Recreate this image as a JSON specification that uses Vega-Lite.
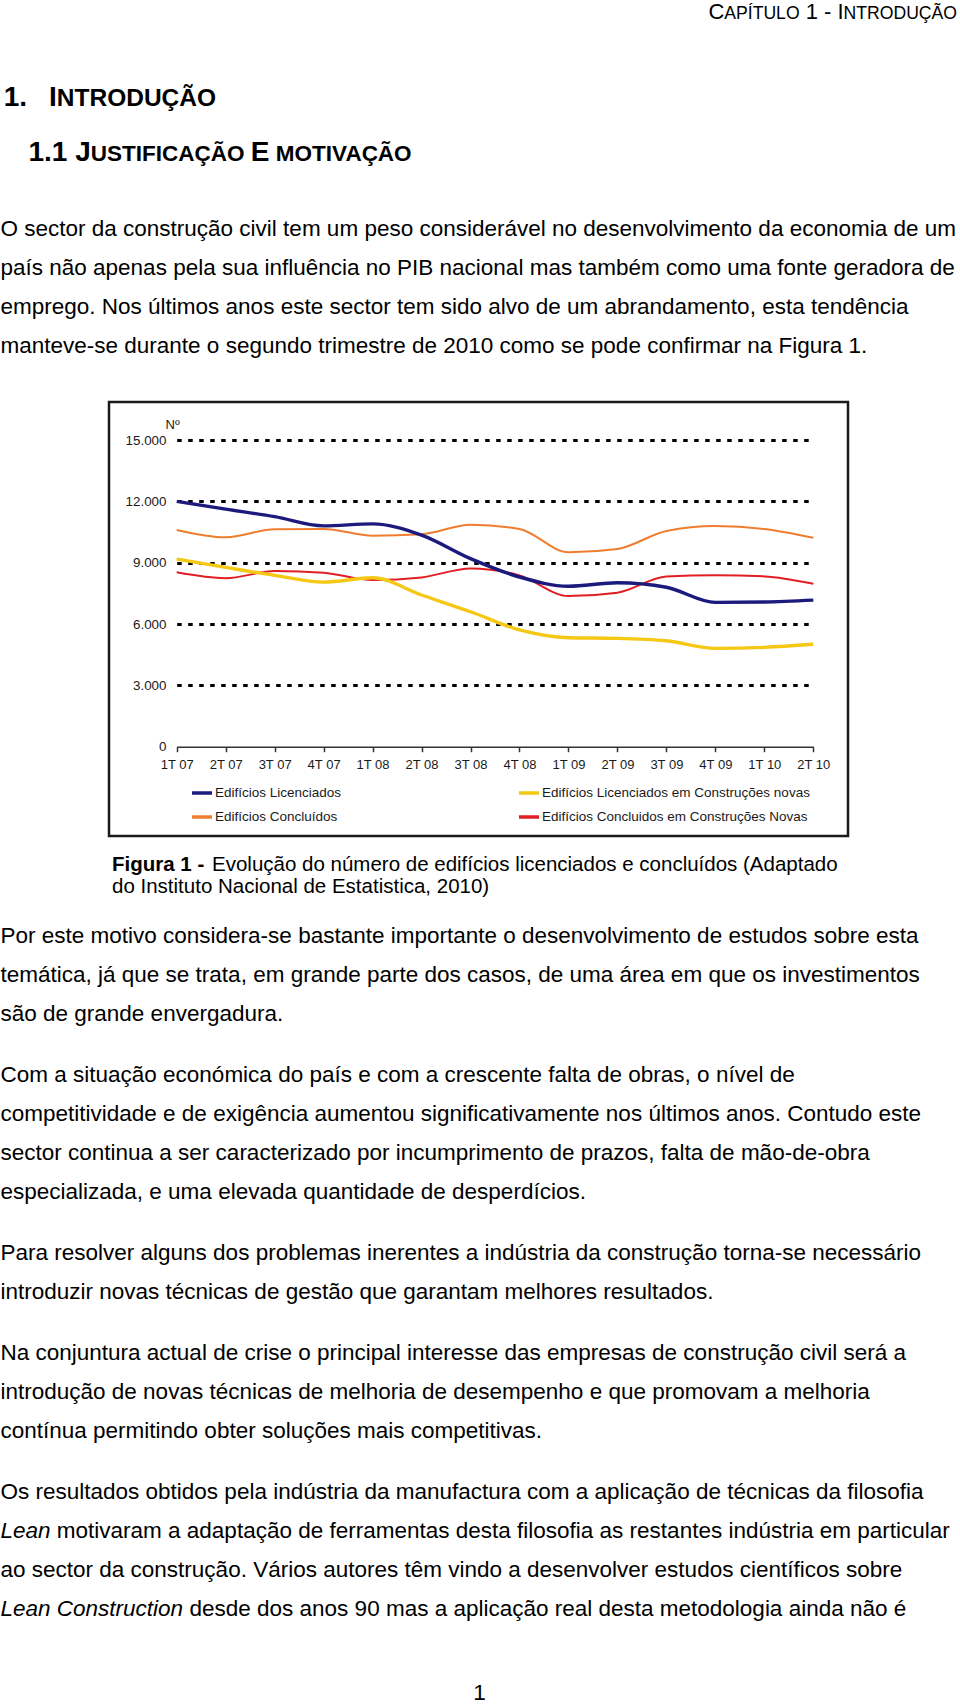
{
  "$schema": "https://vega.github.io/schema/vega-lite/v6.json",
  "width": 739,
  "height": 434,
  "autosize": {"type": "none"},
  "padding": {"left": 109, "top": 402, "right": 112, "bottom": 868},
  "background": "white",
  "datasets": {
    "serie": [
      {"trimestre": "1T 07", "serie": "Edifícios Licenciados", "valor": 12000},
      {"trimestre": "2T 07", "serie": "Edifícios Licenciados", "valor": 11620},
      {"trimestre": "3T 07", "serie": "Edifícios Licenciados", "valor": 11250},
      {"trimestre": "4T 07", "serie": "Edifícios Licenciados", "valor": 10800},
      {"trimestre": "1T 08", "serie": "Edifícios Licenciados", "valor": 10900},
      {"trimestre": "2T 08", "serie": "Edifícios Licenciados", "valor": 10350},
      {"trimestre": "3T 08", "serie": "Edifícios Licenciados", "valor": 9200},
      {"trimestre": "4T 08", "serie": "Edifícios Licenciados", "valor": 8300},
      {"trimestre": "1T 09", "serie": "Edifícios Licenciados", "valor": 7850},
      {"trimestre": "2T 09", "serie": "Edifícios Licenciados", "valor": 8020},
      {"trimestre": "3T 09", "serie": "Edifícios Licenciados", "valor": 7800},
      {"trimestre": "4T 09", "serie": "Edifícios Licenciados", "valor": 7060},
      {"trimestre": "1T 10", "serie": "Edifícios Licenciados", "valor": 7080},
      {"trimestre": "2T 10", "serie": "Edifícios Licenciados", "valor": 7170},
      {"trimestre": "1T 07", "serie": "Edifícios Licenciados em Construções novas", "valor": 9180},
      {"trimestre": "2T 07", "serie": "Edifícios Licenciados em Construções novas", "valor": 8770},
      {"trimestre": "3T 07", "serie": "Edifícios Licenciados em Construções novas", "valor": 8380},
      {"trimestre": "4T 07", "serie": "Edifícios Licenciados em Construções novas", "valor": 8050},
      {"trimestre": "1T 08", "serie": "Edifícios Licenciados em Construções novas", "valor": 8260},
      {"trimestre": "2T 08", "serie": "Edifícios Licenciados em Construções novas", "valor": 7420},
      {"trimestre": "3T 08", "serie": "Edifícios Licenciados em Construções novas", "valor": 6600},
      {"trimestre": "4T 08", "serie": "Edifícios Licenciados em Construções novas", "valor": 5710},
      {"trimestre": "1T 09", "serie": "Edifícios Licenciados em Construções novas", "valor": 5330},
      {"trimestre": "2T 09", "serie": "Edifícios Licenciados em Construções novas", "valor": 5300},
      {"trimestre": "3T 09", "serie": "Edifícios Licenciados em Construções novas", "valor": 5180},
      {"trimestre": "4T 09", "serie": "Edifícios Licenciados em Construções novas", "valor": 4810},
      {"trimestre": "1T 10", "serie": "Edifícios Licenciados em Construções novas", "valor": 4860},
      {"trimestre": "2T 10", "serie": "Edifícios Licenciados em Construções novas", "valor": 5010},
      {"trimestre": "1T 07", "serie": "Edifícios Concluídos", "valor": 10600},
      {"trimestre": "2T 07", "serie": "Edifícios Concluídos", "valor": 10240},
      {"trimestre": "3T 07", "serie": "Edifícios Concluídos", "valor": 10630},
      {"trimestre": "4T 07", "serie": "Edifícios Concluídos", "valor": 10650},
      {"trimestre": "1T 08", "serie": "Edifícios Concluídos", "valor": 10320},
      {"trimestre": "2T 08", "serie": "Edifícios Concluídos", "valor": 10390},
      {"trimestre": "3T 08", "serie": "Edifícios Concluídos", "valor": 10860},
      {"trimestre": "4T 08", "serie": "Edifícios Concluídos", "valor": 10650},
      {"trimestre": "1T 09", "serie": "Edifícios Concluídos", "valor": 9510},
      {"trimestre": "2T 09", "serie": "Edifícios Concluídos", "valor": 9670},
      {"trimestre": "3T 09", "serie": "Edifícios Concluídos", "valor": 10550},
      {"trimestre": "4T 09", "serie": "Edifícios Concluídos", "valor": 10790},
      {"trimestre": "1T 10", "serie": "Edifícios Concluídos", "valor": 10650},
      {"trimestre": "2T 10", "serie": "Edifícios Concluídos", "valor": 10220},
      {"trimestre": "1T 07", "serie": "Edifícios Concluidos em Construções Novas", "valor": 8530},
      {"trimestre": "2T 07", "serie": "Edifícios Concluidos em Construções Novas", "valor": 8240},
      {"trimestre": "3T 07", "serie": "Edifícios Concluidos em Construções Novas", "valor": 8590},
      {"trimestre": "4T 07", "serie": "Edifícios Concluidos em Construções Novas", "valor": 8510},
      {"trimestre": "1T 08", "serie": "Edifícios Concluidos em Construções Novas", "valor": 8150},
      {"trimestre": "2T 08", "serie": "Edifícios Concluidos em Construções Novas", "valor": 8280},
      {"trimestre": "3T 08", "serie": "Edifícios Concluidos em Construções Novas", "valor": 8720},
      {"trimestre": "4T 08", "serie": "Edifícios Concluidos em Construções Novas", "valor": 8380},
      {"trimestre": "1T 09", "serie": "Edifícios Concluidos em Construções Novas", "valor": 7370},
      {"trimestre": "2T 09", "serie": "Edifícios Concluidos em Construções Novas", "valor": 7530},
      {"trimestre": "3T 09", "serie": "Edifícios Concluidos em Construções Novas", "valor": 8330},
      {"trimestre": "4T 09", "serie": "Edifícios Concluidos em Construções Novas", "valor": 8380},
      {"trimestre": "1T 10", "serie": "Edifícios Concluidos em Construções Novas", "valor": 8330},
      {"trimestre": "2T 10", "serie": "Edifícios Concluidos em Construções Novas", "valor": 7970}
    ],
    "pagina": [
      {"bloco": "cab_a", "texto": "C"},
      {"bloco": "cab_b", "texto": "APÍTULO"},
      {"bloco": "cab_c", "texto": "1 - I"},
      {"bloco": "cab_d", "texto": "NTRODUÇÃO"},
      {"bloco": "t1_a", "texto": "1."},
      {"bloco": "t1_b", "texto": "I"},
      {"bloco": "t1_c", "texto": "NTRODUÇÃO"},
      {"bloco": "t2_a", "texto": "1.1 J"},
      {"bloco": "t2_b", "texto": "USTIFICAÇÃO"},
      {"bloco": "t2_c", "texto": "E"},
      {"bloco": "t2_d", "texto": "MOTIVAÇÃO"},
      {"bloco": "p1", "texto": "O sector da construção civil tem um peso considerável no desenvolvimento da economia de um\npaís não apenas pela sua influência no PIB nacional mas também como uma fonte geradora de\nemprego. Nos últimos anos este sector tem sido alvo de um abrandamento, esta tendência\nmanteve-se durante o segundo trimestre de 2010 como se pode confirmar na Figura 1."},
      {"bloco": "leg_a", "texto": "Figura 1 -"},
      {"bloco": "leg_b", "texto": "Evolução do número de edifícios licenciados e concluídos (Adaptado"},
      {"bloco": "leg_c", "texto": "do Instituto Nacional de Estatistica, 2010)"},
      {"bloco": "p2", "texto": "Por este motivo considera-se bastante importante o desenvolvimento de estudos sobre esta\ntemática, já que se trata, em grande parte dos casos, de uma área em que os investimentos\nsão de grande envergadura."},
      {"bloco": "p3", "texto": "Com a situação económica do país e com a crescente falta de obras, o nível de\ncompetitividade e de exigência aumentou significativamente nos últimos anos. Contudo este\nsector continua a ser caracterizado por incumprimento de prazos, falta de mão-de-obra\nespecializada, e uma elevada quantidade de desperdícios."},
      {"bloco": "p4", "texto": "Para resolver alguns dos problemas inerentes a indústria da construção torna-se necessário\nintroduzir novas técnicas de gestão que garantam melhores resultados."},
      {"bloco": "p5", "texto": "Na conjuntura actual de crise o principal interesse das empresas de construção civil será a\nintrodução de novas técnicas de melhoria de desempenho e que promovam a melhoria\ncontínua permitindo obter soluções mais competitivas."},
      {"bloco": "p6_1", "texto": "Os resultados obtidos pela indústria da manufactura com a aplicação de técnicas da filosofia"},
      {"bloco": "p6_2i", "texto": "Lean"},
      {"bloco": "p6_2", "texto": "motivaram a adaptação de ferramentas desta filosofia as restantes indústria em particular"},
      {"bloco": "p6_3", "texto": "ao sector da construção. Vários autores têm vindo a desenvolver estudos científicos sobre"},
      {"bloco": "p6_4i", "texto": "Lean Construction"},
      {"bloco": "p6_4", "texto": "desde dos anos 90 mas a aplicação real desta metodologia ainda não é"},
      {"bloco": "pag", "texto": "1"}
    ]
  },
  "layer": [
    {
      "data": {"name": "serie"},
      "encoding": {
        "x": {
          "field": "trimestre", "type": "ordinal", "sort": null,
          "scale": {"type": "point", "range": [67.7, 704.3], "padding": 0},
          "axis": {
            "orient": "bottom", "offset": -89.3, "title": null, "labelAngle": 0,
            "domain": true, "domainColor": "#333333", "domainWidth": 1.5,
            "ticks": true, "tickSize": 5, "tickColor": "#333333", "tickWidth": 1.5,
            "labelPadding": 7, "labelFontSize": 13, "labelColor": "#1a1a1a", "grid": false
          }
        },
        "y": {
          "field": "valor", "type": "quantitative",
          "scale": {"domain": [0, 15000], "range": [344.7, 38], "nice": false},
          "axis": {
            "orient": "left", "offset": -67.7,
            "values": [0, 3000, 6000, 9000, 12000, 15000],
            "labelExpr": "replace(format(datum.value, ','), ',', '.')",
            "domain": false, "ticks": false, "labelPadding": 10.7,
            "labelFontSize": 13.4, "labelColor": "#1a1a1a",
            "grid": true, "gridColor": "#000000", "gridWidth": 3, "gridDash": [4.5, 6.5],
            "gridOpacity": {"condition": {"test": "datum.value === 0", "value": 0}, "value": 1},
            "title": "Nº", "titleAngle": 0, "titleX": -11.7, "titleY": 26,
            "titleAlign": "left", "titleBaseline": "alphabetic",
            "titleFontWeight": "normal", "titleFontSize": 13, "titleColor": "#1a1a1a"
          }
        },
        "color": {
          "field": "serie", "type": "nominal",
          "scale": {
            "domain": ["Edifícios Licenciados", "Edifícios Concluídos", "Edifícios Licenciados em Construções novas", "Edifícios Concluidos em Construções Novas"],
            "range": ["#1c1a7d", "#ee7d2e", "#f5c814", "#e01e24"]
          },
          "legend": {
            "orient": "none", "legendX": 81, "legendY": 379, "columns": 2, "title": null,
            "symbolType": "stroke", "symbolSize": 400, "symbolStrokeWidth": 3.5,
            "labelFontSize": 13.5, "labelColor": "#1a1a1a", "labelOffset": 1,
            "columnPadding": 170, "rowPadding": 5, "padding": 0, "labelLimit": 400
          }
        }
      },
      "layer": [
        {
          "transform": [{"filter": "datum.serie === 'Edifícios Concluídos' || datum.serie === 'Edifícios Concluidos em Construções Novas'"}],
          "mark": {"type": "line", "interpolate": "monotone", "strokeWidth": 2}
        },
        {
          "transform": [{"filter": "datum.serie === 'Edifícios Licenciados' || datum.serie === 'Edifícios Licenciados em Construções novas'"}],
          "mark": {"type": "line", "interpolate": "monotone", "strokeWidth": 3.4}
        }
      ]
    },
    {"data": {"name": "pagina"}, "transform": [{"filter": "datum.bloco === 'cab_a'"}],
     "mark": {"type": "text", "align": "left", "baseline": "alphabetic", "fontSize": 22, "color": "#000000"},
     "encoding": {"text": {"field": "texto"}, "x": {"value": 599.4}, "y": {"value": -383.5}}},
    {"data": {"name": "pagina"}, "transform": [{"filter": "datum.bloco === 'cab_b'"}],
     "mark": {"type": "text", "align": "left", "baseline": "alphabetic", "fontSize": 17.6, "color": "#000000"},
     "encoding": {"text": {"field": "texto"}, "x": {"value": 615.3}, "y": {"value": -383.5}}},
    {"data": {"name": "pagina"}, "transform": [{"filter": "datum.bloco === 'cab_c'"}],
     "mark": {"type": "text", "align": "left", "baseline": "alphabetic", "fontSize": 22, "color": "#000000"},
     "encoding": {"text": {"field": "texto"}, "x": {"value": 696.7}, "y": {"value": -383.5}}},
    {"data": {"name": "pagina"}, "transform": [{"filter": "datum.bloco === 'cab_d'"}],
     "mark": {"type": "text", "align": "left", "baseline": "alphabetic", "fontSize": 17.6, "color": "#000000"},
     "encoding": {"text": {"field": "texto"}, "x": {"value": 734.6}, "y": {"value": -383.5}}},
    {"data": {"name": "pagina"}, "transform": [{"filter": "datum.bloco === 't1_a'"}],
     "mark": {"type": "text", "align": "left", "baseline": "alphabetic", "fontSize": 28, "fontWeight": "bold", "color": "#000000"},
     "encoding": {"text": {"field": "texto"}, "x": {"value": -105.3}, "y": {"value": -296}}},
    {"data": {"name": "pagina"}, "transform": [{"filter": "datum.bloco === 't1_b'"}],
     "mark": {"type": "text", "align": "left", "baseline": "alphabetic", "fontSize": 28, "fontWeight": "bold", "color": "#000000"},
     "encoding": {"text": {"field": "texto"}, "x": {"value": -60}, "y": {"value": -296}}},
    {"data": {"name": "pagina"}, "transform": [{"filter": "datum.bloco === 't1_c'"}],
     "mark": {"type": "text", "align": "left", "baseline": "alphabetic", "fontSize": 24.5, "fontWeight": "bold", "color": "#000000"},
     "encoding": {"text": {"field": "texto"}, "x": {"value": -52.2}, "y": {"value": -296}}},
    {"data": {"name": "pagina"}, "transform": [{"filter": "datum.bloco === 't2_a'"}],
     "mark": {"type": "text", "align": "left", "baseline": "alphabetic", "fontSize": 28, "fontWeight": "bold", "color": "#000000"},
     "encoding": {"text": {"field": "texto"}, "x": {"value": -80.5}, "y": {"value": -241.5}}},
    {"data": {"name": "pagina"}, "transform": [{"filter": "datum.bloco === 't2_b'"}],
     "mark": {"type": "text", "align": "left", "baseline": "alphabetic", "fontSize": 22.5, "fontWeight": "bold", "color": "#000000"},
     "encoding": {"text": {"field": "texto"}, "x": {"value": -18.2}, "y": {"value": -241.5}}},
    {"data": {"name": "pagina"}, "transform": [{"filter": "datum.bloco === 't2_c'"}],
     "mark": {"type": "text", "align": "left", "baseline": "alphabetic", "fontSize": 28, "fontWeight": "bold", "color": "#000000"},
     "encoding": {"text": {"field": "texto"}, "x": {"value": 141.8}, "y": {"value": -241.5}}},
    {"data": {"name": "pagina"}, "transform": [{"filter": "datum.bloco === 't2_d'"}],
     "mark": {"type": "text", "align": "left", "baseline": "alphabetic", "fontSize": 22.5, "fontWeight": "bold", "color": "#000000"},
     "encoding": {"text": {"field": "texto"}, "x": {"value": 166.8}, "y": {"value": -241.5}}},
    {"data": {"name": "pagina"}, "transform": [{"filter": "datum.bloco === 'p1'"}],
     "mark": {"type": "text", "align": "left", "baseline": "alphabetic", "fontSize": 22.5, "lineBreak": "\n", "lineHeight": 39, "color": "#000000"},
     "encoding": {"text": {"field": "texto"}, "x": {"value": -108.5}, "y": {"value": -166}}},
    {"data": {"name": "pagina"}, "transform": [{"filter": "datum.bloco === 'leg_a'"}],
     "mark": {"type": "text", "align": "left", "baseline": "alphabetic", "fontSize": 20.5, "fontWeight": "bold", "color": "#000000"},
     "encoding": {"text": {"field": "texto"}, "x": {"value": 3}, "y": {"value": 468.5}}},
    {"data": {"name": "pagina"}, "transform": [{"filter": "datum.bloco === 'leg_b'"}],
     "mark": {"type": "text", "align": "left", "baseline": "alphabetic", "fontSize": 20.5, "color": "#000000"},
     "encoding": {"text": {"field": "texto"}, "x": {"value": 103}, "y": {"value": 468.5}}},
    {"data": {"name": "pagina"}, "transform": [{"filter": "datum.bloco === 'leg_c'"}],
     "mark": {"type": "text", "align": "left", "baseline": "alphabetic", "fontSize": 20.5, "color": "#000000"},
     "encoding": {"text": {"field": "texto"}, "x": {"value": 3}, "y": {"value": 490.5}}},
    {"data": {"name": "pagina"}, "transform": [{"filter": "datum.bloco === 'p2'"}],
     "mark": {"type": "text", "align": "left", "baseline": "alphabetic", "fontSize": 22.5, "lineBreak": "\n", "lineHeight": 39, "color": "#000000"},
     "encoding": {"text": {"field": "texto"}, "x": {"value": -108.5}, "y": {"value": 541}}},
    {"data": {"name": "pagina"}, "transform": [{"filter": "datum.bloco === 'p3'"}],
     "mark": {"type": "text", "align": "left", "baseline": "alphabetic", "fontSize": 22.5, "lineBreak": "\n", "lineHeight": 39, "color": "#000000"},
     "encoding": {"text": {"field": "texto"}, "x": {"value": -108.5}, "y": {"value": 680}}},
    {"data": {"name": "pagina"}, "transform": [{"filter": "datum.bloco === 'p4'"}],
     "mark": {"type": "text", "align": "left", "baseline": "alphabetic", "fontSize": 22.5, "lineBreak": "\n", "lineHeight": 39, "color": "#000000"},
     "encoding": {"text": {"field": "texto"}, "x": {"value": -108.5}, "y": {"value": 858}}},
    {"data": {"name": "pagina"}, "transform": [{"filter": "datum.bloco === 'p5'"}],
     "mark": {"type": "text", "align": "left", "baseline": "alphabetic", "fontSize": 22.5, "lineBreak": "\n", "lineHeight": 39, "color": "#000000"},
     "encoding": {"text": {"field": "texto"}, "x": {"value": -108.5}, "y": {"value": 958}}},
    {"data": {"name": "pagina"}, "transform": [{"filter": "datum.bloco === 'p6_1'"}],
     "mark": {"type": "text", "align": "left", "baseline": "alphabetic", "fontSize": 22.5, "color": "#000000"},
     "encoding": {"text": {"field": "texto"}, "x": {"value": -108.5}, "y": {"value": 1097}}},
    {"data": {"name": "pagina"}, "transform": [{"filter": "datum.bloco === 'p6_2i'"}],
     "mark": {"type": "text", "align": "left", "baseline": "alphabetic", "fontSize": 22.5, "fontStyle": "italic", "color": "#000000"},
     "encoding": {"text": {"field": "texto"}, "x": {"value": -108.5}, "y": {"value": 1136}}},
    {"data": {"name": "pagina"}, "transform": [{"filter": "datum.bloco === 'p6_2'"}],
     "mark": {"type": "text", "align": "left", "baseline": "alphabetic", "fontSize": 22.5, "color": "#000000"},
     "encoding": {"text": {"field": "texto"}, "x": {"value": -52.2}, "y": {"value": 1136}}},
    {"data": {"name": "pagina"}, "transform": [{"filter": "datum.bloco === 'p6_3'"}],
     "mark": {"type": "text", "align": "left", "baseline": "alphabetic", "fontSize": 22.5, "color": "#000000"},
     "encoding": {"text": {"field": "texto"}, "x": {"value": -108.5}, "y": {"value": 1175}}},
    {"data": {"name": "pagina"}, "transform": [{"filter": "datum.bloco === 'p6_4i'"}],
     "mark": {"type": "text", "align": "left", "baseline": "alphabetic", "fontSize": 22.5, "fontStyle": "italic", "color": "#000000"},
     "encoding": {"text": {"field": "texto"}, "x": {"value": -108.5}, "y": {"value": 1214}}},
    {"data": {"name": "pagina"}, "transform": [{"filter": "datum.bloco === 'p6_4'"}],
     "mark": {"type": "text", "align": "left", "baseline": "alphabetic", "fontSize": 22.5, "color": "#000000"},
     "encoding": {"text": {"field": "texto"}, "x": {"value": 80.5}, "y": {"value": 1214}}},
    {"data": {"name": "pagina"}, "transform": [{"filter": "datum.bloco === 'pag'"}],
     "mark": {"type": "text", "align": "center", "baseline": "alphabetic", "fontSize": 22.5, "color": "#000000"},
     "encoding": {"text": {"field": "texto"}, "x": {"value": 370.5}, "y": {"value": 1298}}}
  ],
  "config": {
    "font": "Liberation Sans",
    "view": {"stroke": "#1a1a1a", "strokeWidth": 2.5},
    "axis": {"labelFont": "Liberation Sans", "titleFont": "Liberation Sans"},
    "legend": {"labelFont": "Liberation Sans"},
    "text": {"font": "Liberation Sans"}
  }
}
